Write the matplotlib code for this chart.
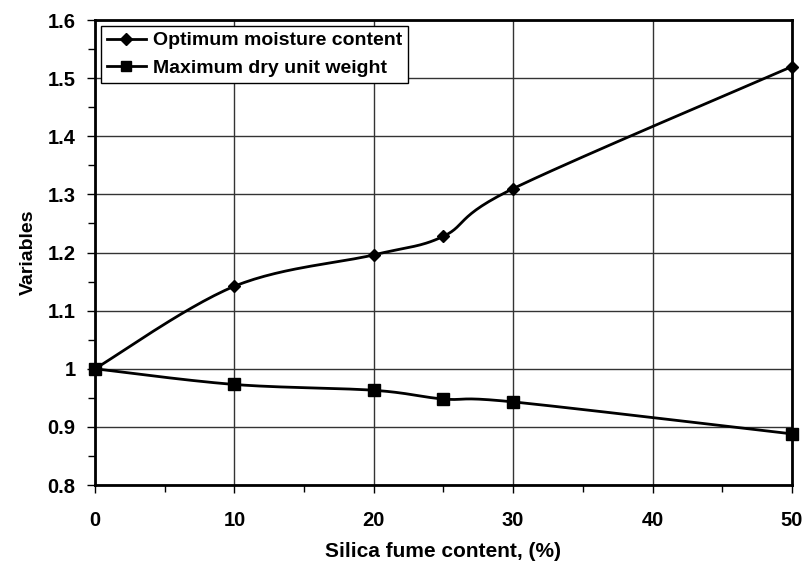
import numpy as np
import matplotlib.pyplot as plt
from matplotlib.ticker import MultipleLocator

plt.rcParams['font.family'] = ['Liberation Sans', 'DejaVu Sans']
plt.rcParams['font.weight'] = 'bold'

silica = [0, 10, 20, 25, 30, 50]
moisture = [1.0, 1.142, 1.196, 1.228, 1.31, 1.52]
dry_weight = [1.0, 0.973, 0.963, 0.948, 0.943, 0.888]


def smooth(x, y, n=30):
    # Excel-like smoothed line (Catmull-Rom through the points)
    x = np.asarray(x, float)
    y = np.asarray(y, float)
    px = np.concatenate([[x[0]], x, [x[-1]]])
    py = np.concatenate([[y[0]], y, [y[-1]]])
    xs, ys = [], []
    t = np.linspace(0, 1, n)
    for i in range(1, len(px) - 2):
        p0, p1, p2, p3 = [np.array([px[j], py[j]]) for j in range(i - 1, i + 3)]
        c1 = p1 + (p2 - p0) / 6
        c2 = p2 - (p3 - p1) / 6
        pts = ((1 - t) ** 3)[:, None] * p1 + (3 * (1 - t) ** 2 * t)[:, None] * c1 \
            + (3 * (1 - t) * t ** 2)[:, None] * c2 + (t ** 3)[:, None] * p2
        xs.extend(pts[:, 0])
        ys.extend(pts[:, 1])
    return xs, ys


fig = plt.figure(figsize=(8.08, 5.67), dpi=100)
ax = fig.add_axes([0.1176, 0.1446, 0.8625, 0.82])

sx, sy = smooth(silica, moisture)
ax.plot(sx, sy, color='black', lw=2, zorder=3)
sx, sy = smooth(silica, dry_weight)
ax.plot(sx, sy, color='black', lw=2, zorder=3)
ax.plot(silica, moisture, ls='none', marker='D', ms=6, color='black', zorder=4, clip_on=False)
ax.plot(silica, dry_weight, ls='none', marker='s', ms=8, color='black', zorder=4, clip_on=False)

# legend handles
ax.plot([], [], color='black', lw=2, marker='D', ms=6, label='Optimum moisture content')
ax.plot([], [], color='black', lw=2, marker='s', ms=7, label='Maximum dry unit weight')

ax.set_xlim(0, 50)
ax.set_ylim(0.8, 1.6)
ax.xaxis.set_major_locator(MultipleLocator(10))
ax.xaxis.set_minor_locator(MultipleLocator(5))
ax.yaxis.set_major_locator(MultipleLocator(0.1))
ax.yaxis.set_minor_locator(MultipleLocator(0.05))
ax.set_yticks(np.arange(0.8, 1.61, 0.1))
ax.set_yticklabels(['0.8', '0.9', '1', '1.1', '1.2', '1.3', '1.4', '1.5', '1.6'])
ax.tick_params(which='major', length=6, width=1, labelsize=14.5, pad=8)
ax.tick_params(which='minor', length=5, width=1)
ax.tick_params(axis='x', pad=13)
ax.grid(True, which='major', color='#333333', lw=1)
for s in ax.spines.values():
    s.set_linewidth(2)

ax.set_xlabel('Silica fume content, (%)', fontsize=15, fontweight='bold', labelpad=8)
ax.set_ylabel('Variables', fontsize=14, fontweight='bold', labelpad=8)

leg = ax.legend(loc='upper left', frameon=True, fancybox=False,
                framealpha=1, edgecolor='black', handlelength=2.0,
                borderaxespad=0.3, labelspacing=0.5, handletextpad=0.4,
                borderpad=0.3, prop={'weight': 'bold', 'size': 14})
leg.get_frame().set_linewidth(1)

fig.savefig('out.png', dpi=100)
